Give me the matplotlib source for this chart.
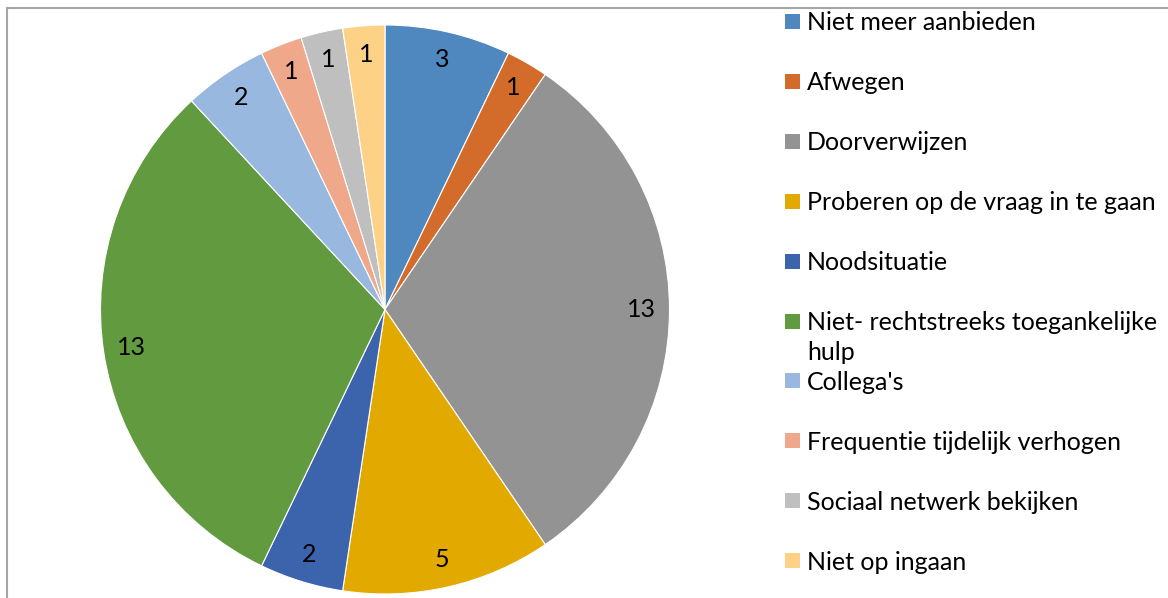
import matplotlib
matplotlib.use("Agg")
import matplotlib.pyplot as plt
from matplotlib.patches import Rectangle
from matplotlib.lines import Line2D

categories = ["Niet meer aanbieden", "Afwegen", "Doorverwijzen",
              "Proberen op de vraag in te gaan", "Noodsituatie",
              "Niet- rechtstreeks toegankelijke\nhulp", "Collega's",
              "Frequentie tijdelijk verhogen", "Sociaal netwerk bekijken",
              "Niet op ingaan"]
values = [3, 1, 13, 5, 2, 13, 2, 1, 1, 1]
colors = ["#4E88BE", "#D36C2A", "#939393", "#E2AA00", "#3C64AD",
          "#629A40", "#98B8DF", "#F0A88B", "#BFBFBF", "#FDD287"]

W, H = 1168, 598
fig = plt.figure(figsize=(W / 100, H / 100), dpi=100)
FONT = "Lato"
FS = 18

cx, cy, R = 385, 309.5, 284.5
ax = fig.add_axes([(cx - R) / W, (H - cy - R) / H, 2 * R / W, 2 * R / H])
total = sum(values)
wedges, texts, autotexts = ax.pie(
    values, colors=colors, startangle=90, counterclock=False, radius=1,
    autopct=lambda p: f"{round(p * total / 100)}", pctdistance=0.9,
    wedgeprops=dict(linewidth=0.8, edgecolor="white"),
    textprops=dict(fontsize=FS, family=FONT, color="black"))
ax.set_xlim(-1, 1)
ax.set_ylim(-1, 1)
ax.set_aspect("equal")
ax.axis("off")

# frame (cropped chart border)
fig.add_artist(Line2D([7 / W, 7 / W], [0, 1 - 8 / H], transform=fig.transFigure,
                      color="#A6A6A6", lw=1.5))
fig.add_artist(Line2D([7 / W, 1], [1 - 8 / H, 1 - 8 / H], transform=fig.transFigure,
                      color="#A6A6A6", lw=1.5))

# legend
sq = 15
for i, (lab, col) in enumerate(zip(categories, colors)):
    yc = 21.5 + 59.9 * i
    fig.add_artist(Rectangle((785 / W, 1 - (yc + sq / 2) / H), sq / W, sq / H,
                             transform=fig.transFigure, facecolor=col,
                             edgecolor="none"))
    for j, line in enumerate(lab.split("\n")):
        fig.text(807 / W, 1 - (yc + 9 + 30 * j) / H, line, fontsize=FS,
                 family=FONT, va="baseline", ha="left")

fig.savefig("out.png", dpi=100)
